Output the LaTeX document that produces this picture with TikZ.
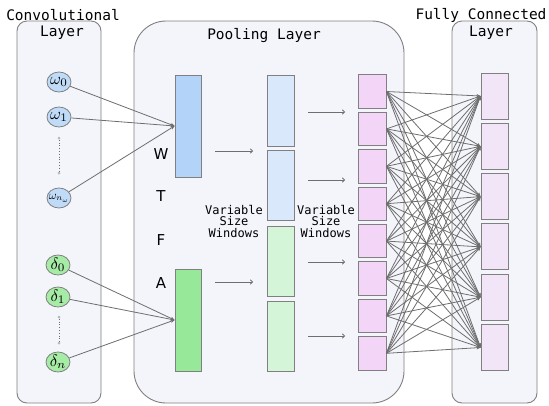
\documentclass[tikz,border=0pt]{standalone}
\usepackage{fontspec}
\newfontfamily\monof{DejaVu Sans Mono}
\newfontfamily\sansf{DejaVu Sans}
\usetikzlibrary{shapes.geometric,arrows.meta}
\definecolor{panelfill}{HTML}{F4F5FB}
\definecolor{panelline}{HTML}{808080}
\definecolor{linegray}{HTML}{6E6E6E}
\definecolor{wboxc}{HTML}{B3D3F8}
\definecolor{pbluec}{HTML}{DAE8FC}
\definecolor{aboxc}{HTML}{98E89A}
\definecolor{pgreenc}{HTML}{D5F5D9}
\definecolor{pinkc}{HTML}{F2D5F7}
\definecolor{fcc}{HTML}{F3E5F8}
\definecolor{wcircc}{HTML}{BFDBF7}
\definecolor{dcircc}{HTML}{A6EBA6}
\definecolor{dotc}{HTML}{B8B8B8}
\newcommand{\ctxt}[2][1.65]{\makebox[0pt]{\scalebox{#1}{$#2$}}}
\begin{document}
\begin{tikzpicture}[x=1pt,y=-1pt,
  panel/.style={draw=panelline,fill=panelfill,line width=0.9pt},
  box/.style={draw=panelline,line width=0.9pt,inner sep=0pt,rectangle},
  circ/.style={ellipse,draw=panelline,line width=0.8pt,minimum width=24pt,minimum height=20pt,inner sep=0pt,font=\fontsize{10}{10}\selectfont},
  conn/.style={draw=linegray,line width=0.8pt,-{Stealth[length=4pt,width=3.5pt]}},
  flow/.style={draw=linegray,line width=0.8pt,-{To[length=3pt,width=5pt]}},
  title/.style={font=\monof\fontsize{14.5}{17}\selectfont,text=black,inner sep=0pt},
  vsw/.style={font=\monof\fontsize{12}{11.5}\selectfont,align=center,inner sep=0pt},
  letter/.style={font=\sansf\fontsize{15}{15}\selectfont,inner sep=0pt},
  dotend/.style={circle,fill=dotc,minimum size=3pt,inner sep=0pt}
]
\useasboundingbox (0,0) rectangle (549,405);
\fill[white] (0,0) rectangle (549,405);

% panels
\path[panel,rounded corners=10pt] (17,21) rectangle (101,403);
\path[panel,rounded corners=32pt] (134,21) rectangle (404,403);
\path[panel,rounded corners=10pt] (452,21) rectangle (537,403);

% titles
\node[title] (t1) at (63,15) {Convolutional};
\node[title] (t2) at (62,33) {Layer};
\node[title] (t3) at (264,36) {Pooling Layer};
\node[title] (t4) at (481,15) {Fully Connected};
\node[title] (t5) at (491,33) {Layer};

% circles
\node[circ,fill=wcircc] (w0) at (59,82) {\ctxt{\omega_0}};
\node[circ,fill=wcircc] (w1) at (59,117) {\ctxt{\omega_1}};
\node[circ,fill=wcircc] (wn) at (59,198) {\ctxt[1.2]{\omega_{n_\omega}}};
\node[circ,fill=dcircc] (d0) at (58,265) {\ctxt{\delta_0}};
\node[circ,fill=dcircc] (d1) at (58,297) {\ctxt{\delta_1}};
\node[circ,fill=dcircc] (dn) at (58,362) {\ctxt{\delta_n}};

% dotted separators
\node[dotend] (wa) at (59,138) {};
\node[dotend] (wb) at (59,173) {};
\draw[linegray,line width=0.8pt,dotted] (wa) -- (wb);
\node[dotend] (da) at (59,317) {};
\node[dotend] (db) at (59,343) {};
\draw[linegray,line width=0.8pt,dotted] (da) -- (db);

% first boxes
\node[box,fill=wboxc,minimum width=26pt,minimum height=102pt] (W) at (188,126) {};
\node[box,fill=aboxc,minimum width=26pt,minimum height=102pt] (A) at (188,320) {};

\foreach \c in {w0,w1,wn} \draw[conn] (\c) -- (W.west);
\foreach \c in {d0,d1,dn} \draw[conn] (\c) -- (A.west);

% letters
\node[letter] (lW) at (161,154) {W};
\node[letter] (lT) at (161,196) {T};
\node[letter] (lF) at (161,240) {F};
\node[letter] (lA) at (161,283) {A};

% pooled column
\node[box,fill=pbluec,minimum width=27pt,minimum height=71pt] (p1) at (280.5,110.5) {};
\node[box,fill=pbluec,minimum width=27pt,minimum height=70pt] (p2) at (280.5,185) {};
\node[box,fill=pgreenc,minimum width=27pt,minimum height=70pt] (p3) at (280.5,261) {};
\node[box,fill=pgreenc,minimum width=27pt,minimum height=70pt] (p4) at (280.5,336) {};

% flow arrows
\coordinate (a1s) at (215,151); \coordinate (a1e) at (253,151);
\coordinate (a2s) at (215,282); \coordinate (a2e) at (253,282);
\draw[flow] (a1s) -- (a1e);
\draw[flow] (a2s) -- (a2e);
\foreach \yy/\n in {112/b1,180/b2,262/b3,336/b4}{
  \coordinate (\n s) at (308,\yy); \coordinate (\n e) at (345,\yy);
  \draw[flow] (\n s) -- (\n e);
}

% variable size windows labels
\node[vsw] (v1) at (234,221) {Variable\\Size\\Windows};
\node[vsw] (v2) at (326,221) {Variable\\Size\\Windows};

% pink column
\foreach \i in {0,...,7}{
  \node[box,fill=pinkc,minimum width=28pt,minimum height=33.5pt] (k\i) at (372,{91.5+37.4*\i}) {};
}
% fully connected column
\foreach \j in {0,...,5}{
  \node[box,fill=fcc,minimum width=27pt,minimum height=46pt] (f\j) at (494.5,{96+50.3*\j}) {};
}
% full connections
\foreach \i in {0,...,7}{
  \foreach \j in {0,...,5}{
    \draw[conn] (k\i.east) -- (f\j.west);
  }
}
\end{tikzpicture}
\end{document}
